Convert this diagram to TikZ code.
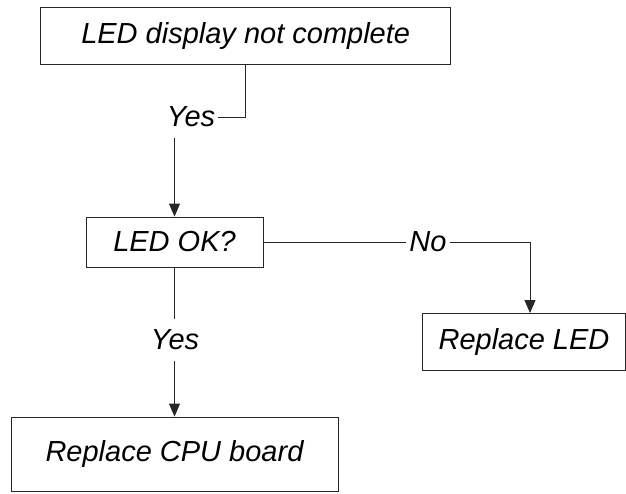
\documentclass[tikz,border=0pt]{standalone}
\usepackage{fontspec}
\setmainfont{Liberation Sans}
\usetikzlibrary{arrows.meta,calc}
\tikzset{
  box/.style={draw=black!85, line width=0.9pt, inner sep=0pt, font=\fontsize{29}{34}\selectfont\itshape},
  lbl/.style={inner xsep=3pt, inner ysep=11pt, font=\fontsize{29}{34}\selectfont\itshape},
  conn/.style={draw=black!85, line width=0.9pt},
  arr/.style={conn, -{Triangle[length=13pt,width=11pt]}}
}
\begin{document}
\begin{tikzpicture}[x=1pt,y=-1pt]
\useasboundingbox (0,0) rectangle (626,493);
\node[box, minimum width=410pt, minimum height=57pt] (b1) at (245.7,35.5) {LED display not complete};
\node[box, minimum width=177pt, minimum height=50pt] (b2) at (174.5,242) {LED OK?};
\node[box, minimum width=203.5pt, minimum height=57pt] (b3) at (524,341.5) {Replace LED};
\node[box, minimum width=327pt, minimum height=74pt] (b4) at (174.5,454) {Replace CPU board};
\node[lbl] (y1) at (191,117) {Yes};
\node[lbl] (no) at (428,242) {No};
\node[lbl] (y2) at (175,340) {Yes};
\coordinate (c3) at (530,313);
\draw[conn] (b1.south) |- (y1.east);
\draw[arr] (b2.north |- y1.south) -- (b2.north);
\draw[conn] (b2.east) -- (no.west);
\draw[arr] (no.east) -| (c3);
\draw[conn] (b2.south) -- (b2.south |- y2.north);
\draw[arr] (b2.south |- y2.south) -- (b4.north);
\end{tikzpicture}
\end{document}
